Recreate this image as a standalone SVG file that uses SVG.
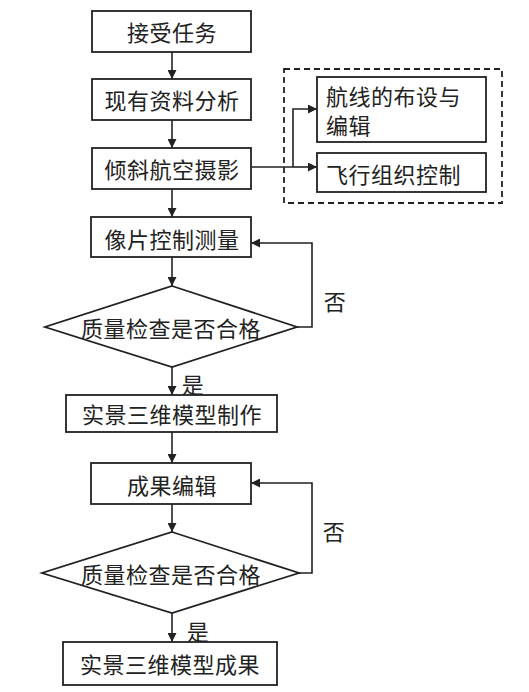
<svg xmlns="http://www.w3.org/2000/svg" width="529" height="692" viewBox="0 0 529 692">
<defs>
<marker id="ah" viewBox="0 0 10 10" refX="10" refY="5" markerWidth="9" markerHeight="9" markerUnits="userSpaceOnUse" orient="auto">
<path d="M0,0 L10,5 L0,10 z" fill="#222"/>
</marker>
<style>
.box{fill:#fff;stroke:#222;stroke-width:1.8}
.dash{fill:none;stroke:#222;stroke-width:1.8;stroke-dasharray:6,4}
.ln{fill:none;stroke:#222;stroke-width:1.6}
.arr{fill:none;stroke:#222;stroke-width:1.6;marker-end:url(#ah)}
text{font-family:"Noto Sans CJK SC","Noto Sans",sans-serif;font-size:22px;fill:#222;letter-spacing:0.5px}
.c{text-anchor:middle;dominant-baseline:central}
.l{dominant-baseline:central}
</style>
</defs>
<rect width="529" height="692" fill="#fff"/>
<g id="connectors">
<line class="arr" x1="172" y1="52" x2="172" y2="79"/>
<line class="arr" x1="172" y1="120" x2="172" y2="148"/>
<line class="arr" x1="172" y1="189" x2="172" y2="217"/>
<line class="arr" x1="172" y1="257" x2="172" y2="286"/>
<line class="arr" x1="172" y1="367" x2="172" y2="395"/>
<line class="arr" x1="172" y1="432" x2="172" y2="463"/>
<line class="arr" x1="172" y1="504" x2="172" y2="532"/>
<line class="arr" x1="172" y1="613" x2="172" y2="642"/>
<line class="ln" x1="251" y1="167" x2="293" y2="167"/>
<polyline class="arr" points="293,167 293,109 317,109"/>
<line class="arr" x1="293" y1="167" x2="317" y2="167"/>
<polyline class="arr" points="297,327 312,327 312,243 251,243"/>
<polyline class="arr" points="299,573 312,573 312,483 251,483"/>
<text class="c" x="335" y="300">否</text>
<text class="c" x="193" y="383">是</text>
<text class="c" x="334" y="530">否</text>
<text class="c" x="198" y="630">是</text>
</g>
<g id="n1"><rect class="box" x="92" y="11" width="159" height="41"/><text class="c" x="172" y="31">接受任务</text></g>
<g id="n2"><rect class="box" x="92" y="79" width="159" height="41"/><text class="c" x="172" y="99">现有资料分析</text></g>
<g id="n3"><rect class="box" x="92" y="148" width="159" height="41"/><text class="c" x="172" y="168">倾斜航空摄影</text></g>
<g id="group"><rect class="dash" x="284" y="69" width="218" height="134"/></g>
<g id="n3a"><rect class="box" x="317" y="77" width="169" height="65"/><text class="l" x="326" y="95">航线的布设与</text><text class="l" x="326" y="124">编辑</text></g>
<g id="n3b"><rect class="box" x="317" y="153" width="169" height="39"/><text class="l" x="326" y="173">飞行组织控制</text></g>
<g id="n4"><rect class="box" x="91" y="217" width="160" height="40"/><text class="c" x="172" y="238">像片控制测量</text></g>
<g id="d1"><polygon class="box" points="172,286 297,327 172,367 45,327"/><text class="c" x="171" y="327">质量检查是否合格</text></g>
<g id="n5"><rect class="box" x="66" y="395" width="211" height="37"/><text class="c" x="172" y="413">实景三维模型制作</text></g>
<g id="n6"><rect class="box" x="91" y="463" width="160" height="41"/><text class="c" x="172" y="484">成果编辑</text></g>
<g id="d2"><polygon class="box" points="172,532 299,573 172,613 42,573"/><text class="c" x="171" y="573">质量检查是否合格</text></g>
<g id="n7"><rect class="box" x="63" y="642" width="214" height="43"/><text class="c" x="170" y="663">实景三维模型成果</text></g>
</svg>
